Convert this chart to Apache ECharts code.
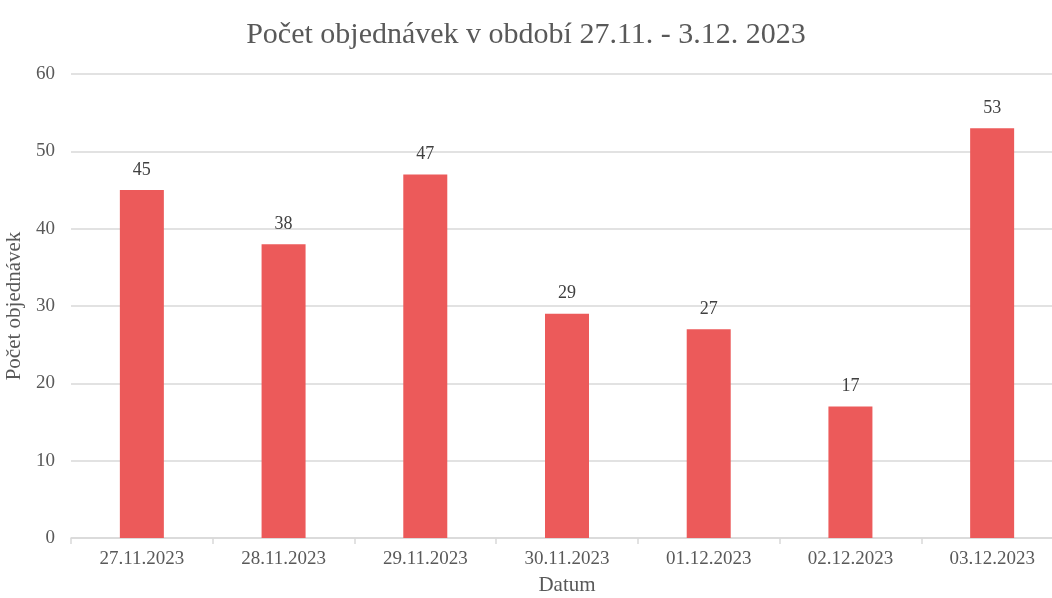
<!DOCTYPE html>
<html>
<head>
<meta charset="utf-8">
<script src="https://cdn.jsdelivr.net/npm/echarts@6/dist/echarts.min.js"></script>
<style>
  html, body { margin: 0; padding: 0; background: #fff; }
  #container { width: 1052px; height: 598px; }
</style>
</head>
<body>
<div id="container"></div>
<script>
var dates = ['27.11.2023', '28.11.2023', '29.11.2023', '30.11.2023', '01.12.2023', '02.12.2023', '03.12.2023'];
var orders = [45, 38, 47, 29, 27, 17, 53];
var yTicks = [0, 10, 20, 30, 40, 50, 60];

var font = '"Liberation Serif", "Times New Roman", serif';
var textColor = '#595959';

var myChart = echarts.init(document.getElementById('container'));

var option = {
    backgroundColor: '#fff',
    animation: false,
    textStyle: { fontFamily: font },
    title: {
        text: 'Počet objednávek v období 27.11. - 3.12. 2023',
        left: 'center',
        top: 15,
        textStyle: {
            fontFamily: font,
            fontSize: 30,
            fontWeight: 'normal',
            color: textColor
        }
    },
    // plot runs past the right edge in the original, it is cropped there
    grid: {
        left: 71,
        top: 74,
        width: 992,
        height: 464,
        containLabel: false,
        outerBoundsMode: 'none'
    },
    xAxis: {
        type: 'category',
        data: dates,
        name: 'Datum',
        nameLocation: 'middle',
        nameGap: 37,
        nameTextStyle: { fontFamily: font, fontSize: 21, color: textColor },
        axisLine: { lineStyle: { color: '#d9d9d9', width: 1.5 } },
        axisTick: { show: true, length: 6, lineStyle: { color: '#d9d9d9', width: 1.5 } },
        axisLabel: { fontFamily: font, fontSize: 19, color: textColor, margin: 12 }
    },
    yAxis: {
        type: 'value',
        min: yTicks[0],
        max: yTicks[yTicks.length - 1],
        interval: 10,
        name: 'Počet objednávek',
        nameLocation: 'middle',
        nameGap: 43,
        nameTextStyle: { fontFamily: font, fontSize: 21, color: textColor },
        axisLine: { show: false },
        axisTick: { show: false },
        splitLine: { lineStyle: { color: '#d9d9d9', width: 1.5 } },
        axisLabel: { fontFamily: font, fontSize: 19, color: textColor, margin: 16 }
    },
    series: [{
        type: 'bar',
        data: orders,
        barWidth: 44,
        itemStyle: { color: '#EC5A5A' },
        label: {
            show: true,
            position: 'top',
            distance: 11,
            fontFamily: font,
            fontSize: 18,
            color: '#404040'
        }
    }]
};

myChart.setOption(option);
</script>
</body>
</html>
